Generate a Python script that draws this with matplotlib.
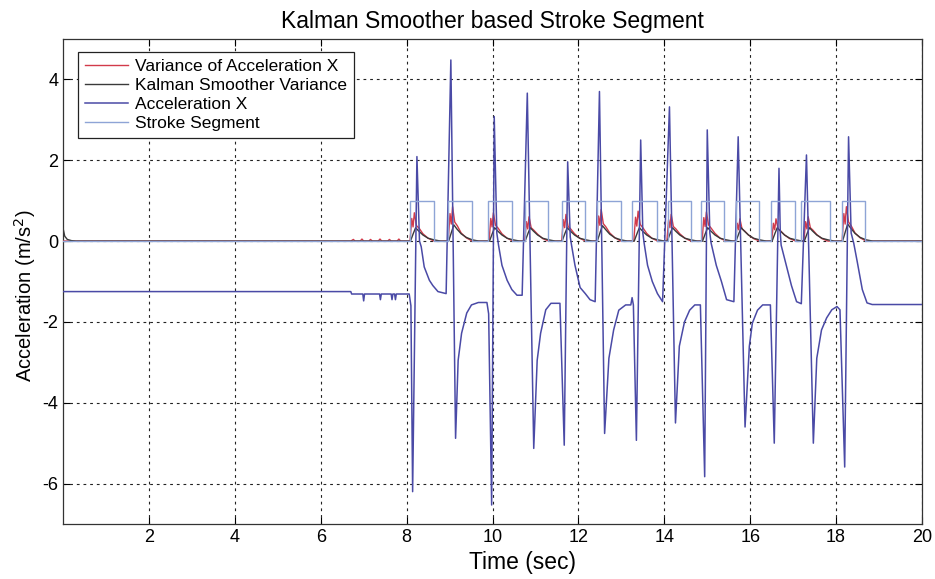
import matplotlib
matplotlib.use("Agg")
import matplotlib.pyplot as plt

plt.rcParams['font.family'] = ['Liberation Sans', 'DejaVu Sans']
plt.rcParams['axes.unicode_minus'] = False

# ---------------- data ----------------
x_ticks = [2, 4, 6, 8, 10, 12, 14, 16, 18, 20]
y_ticks = [-6, -4, -2, 0, 2, 4]

# Acceleration X: idle part before the strokes
accel_idle_t = [0.0, 6.70, 6.72, 6.98, 7.00, 7.02, 7.37, 7.39, 7.41, 7.64, 7.66, 7.68,
                7.72, 7.74, 7.76, 8.06]
accel_idle_v = [-1.25, -1.25, -1.31, -1.31, -1.48, -1.31, -1.31, -1.45, -1.31, -1.31, -1.45, -1.31,
                -1.31, -1.45, -1.31, -1.31]

# Acceleration X: stroke part
accel_stroke_t = [
    8.10, 8.14, 8.24, 8.30, 8.34, 8.41, 8.53, 8.61, 8.73, 8.92,
    9.03, 9.14, 9.20, 9.28, 9.40, 9.51, 9.67, 9.87,
    9.91, 9.98, 10.04, 10.10, 10.14, 10.22, 10.34, 10.45, 10.57, 10.69,
    10.81, 10.96, 11.04, 11.12, 11.24, 11.36, 11.57,
    11.67, 11.75, 11.81, 11.84, 11.92, 12.04, 12.16, 12.27, 12.39,
    12.49, 12.61, 12.71, 12.82, 12.94, 13.10, 13.22, 13.25, 13.28,
    13.35, 13.45, 13.50, 13.53, 13.61, 13.72, 13.84, 13.96,
    14.12, 14.26, 14.35, 14.47, 14.59, 14.71, 14.84,
    14.94, 15.00, 15.06, 15.09, 15.21, 15.33, 15.45, 15.62,
    15.72, 15.88, 15.98, 16.05, 16.17, 16.29, 16.47,
    16.56, 16.67, 16.70, 16.72, 16.84, 16.96, 17.08, 17.19,
    17.31, 17.47, 17.55, 17.66, 17.78, 17.90, 18.02, 18.09,
    18.20, 18.29, 18.35, 18.41, 18.49, 18.61, 18.72, 18.84, 20.0]
accel_stroke_v = [
    -1.6, -6.2, 2.09, 0.0, -0.14, -0.64, -0.97, -1.10, -1.25, -1.30,
    4.48, -4.88, -2.95, -2.28, -1.78, -1.58, -1.52, -1.52,
    -1.8, -6.53, 3.08, 0.2, -0.10, -0.60, -0.97, -1.20, -1.34, -1.34,
    3.66, -5.13, -2.95, -2.28, -1.70, -1.54, -1.54,
    -5.05, 1.96, 0.1, -0.10, -0.60, -1.15, -1.30, -1.45, -1.50,
    3.70, -4.76, -2.90, -2.20, -1.71, -1.58, -1.58, -1.40, -1.58,
    -4.93, 2.50, 0.2, -0.05, -0.60, -1.00, -1.30, -1.50,
    3.32, -4.50, -2.60, -2.00, -1.71, -1.58, -1.58,
    -5.83, 2.75, 0.2, -0.05, -0.60, -1.00, -1.45, -1.50,
    2.58, -4.60, -2.60, -2.03, -1.71, -1.58, -1.58,
    -5.00, 1.80, 0.2, -0.10, -0.60, -1.10, -1.50, -1.55,
    2.13, -5.00, -2.90, -2.20, -1.90, -1.70, -1.62, -1.70,
    -5.59, 2.58, 0.2, -0.05, -0.50, -1.20, -1.53, -1.57, -1.57]

# Stroke segment pulses (start / end times, height)
stroke_start = [8.08, 8.97, 9.89, 10.75, 11.61, 12.43, 13.25, 14.08, 14.85, 15.66, 16.49, 17.19, 18.13]
stroke_end = [8.63, 9.52, 10.46, 11.30, 12.16, 12.99, 13.84, 14.63, 15.40, 16.21, 17.04, 17.86, 18.68]
stroke_level = 1.0

# Variance of Acceleration X (red)
red_idle_t = [0.0, 6.70, 6.76, 6.80, 6.92, 6.96, 7.00, 7.12, 7.16, 7.20, 7.34, 7.38, 7.42,
              7.56, 7.60, 7.64, 7.78, 7.82, 7.86, 8.00]
red_idle_v = [0.0, 0.0, 0.04, 0.0, 0.0, 0.05, 0.0, 0.0, 0.04, 0.0, 0.0, 0.05, 0.0,
              0.0, 0.04, 0.0, 0.0, 0.05, 0.0, 0.0]
red_stroke_t = [
    8.08, 8.12, 8.15, 8.18, 8.23, 8.29, 8.38, 8.50, 8.64,
    8.97, 9.01, 9.04, 9.07, 9.12, 9.18, 9.27, 9.39, 9.53,
    9.92, 9.96, 9.99, 10.02, 10.07, 10.13, 10.22, 10.34, 10.48,
    10.75, 10.79, 10.82, 10.85, 10.90, 10.96, 11.05, 11.17, 11.31,
    11.61, 11.65, 11.68, 11.71, 11.76, 11.82, 11.91, 12.03, 12.17,
    12.43, 12.47, 12.50, 12.53, 12.58, 12.64, 12.73, 12.85, 12.99,
    13.29, 13.33, 13.36, 13.39, 13.44, 13.50, 13.59, 13.71, 13.85,
    14.06, 14.10, 14.13, 14.16, 14.21, 14.27, 14.36, 14.48, 14.62,
    14.88, 14.92, 14.95, 14.98, 15.03, 15.09, 15.18, 15.30, 15.44,
    15.66, 15.70, 15.73, 15.76, 15.81, 15.87, 15.96, 16.08, 16.22,
    16.50, 16.54, 16.57, 16.60, 16.65, 16.71, 16.80, 16.92, 17.06,
    17.25, 17.29, 17.32, 17.35, 17.40, 17.46, 17.55, 17.67, 17.81,
    18.14, 18.18, 18.21, 18.24, 18.29, 18.35, 18.44, 18.56, 18.70, 20.0]
red_stroke_v = [
    0, .56, .35, .70, .38, .32, .18, .07, 0,
    0, .68, .42, .85, .47, .38, .20, .08, 0,
    0, .56, .35, .70, .39, .32, .18, .07, 0,
    0, .48, .30, .60, .33, .27, .17, .06, 0,
    0, .53, .33, .66, .36, .30, .18, .07, 0,
    0, .62, .39, .78, .43, .35, .20, .08, 0,
    0, .59, .37, .74, .41, .33, .19, .07, 0,
    0, .53, .33, .66, .36, .30, .18, .07, 0,
    0, .58, .36, .72, .40, .32, .19, .07, 0,
    0, .44, .28, .55, .30, .25, .15, .06, 0,
    0, .44, .28, .55, .30, .25, .15, .06, 0,
    0, .48, .30, .60, .33, .27, .16, .06, 0,
    0, .68, .42, .85, .47, .38, .20, .08, 0, 0]

# Kalman Smoother Variance (black)
kal_start_t = [0.0, 0.04, 0.10, 0.20, 0.30]
kal_start_v = [0.32, 0.12, 0.04, 0.01, 0.0]
kal_stroke_t = [
    8.09, 8.16, 8.21, 8.28, 8.38, 8.50, 8.64, 8.79,
    8.98, 9.05, 9.10, 9.17, 9.27, 9.39, 9.53, 9.68,
    9.93, 10.00, 10.05, 10.12, 10.22, 10.34, 10.48, 10.63,
    10.76, 10.83, 10.88, 10.95, 11.05, 11.17, 11.31, 11.46,
    11.62, 11.69, 11.74, 11.81, 11.91, 12.03, 12.17, 12.32,
    12.44, 12.51, 12.56, 12.63, 12.73, 12.85, 12.99, 13.14,
    13.30, 13.37, 13.42, 13.49, 13.59, 13.71, 13.85, 14.00,
    14.07, 14.14, 14.19, 14.26, 14.36, 14.48, 14.62, 14.77,
    14.89, 14.96, 15.01, 15.08, 15.18, 15.30, 15.44, 15.59,
    15.67, 15.74, 15.79, 15.86, 15.96, 16.08, 16.22, 16.37,
    16.51, 16.58, 16.63, 16.70, 16.80, 16.92, 17.06, 17.21,
    17.26, 17.33, 17.38, 17.45, 17.55, 17.67, 17.81, 17.96,
    18.15, 18.22, 18.27, 18.34, 18.44, 18.56, 18.70, 18.85, 20.0]
kal_stroke_v = [
    0, .20, .33, .25, .15, .07, .03, 0,
    0, .24, .40, .30, .18, .09, .03, 0,
    0, .20, .33, .25, .15, .07, .03, 0,
    0, .20, .33, .25, .15, .07, .03, 0,
    0, .20, .33, .25, .15, .07, .03, 0,
    0, .23, .38, .29, .17, .08, .03, 0,
    0, .20, .33, .25, .15, .07, .03, 0,
    0, .20, .33, .25, .15, .07, .03, 0,
    0, .20, .33, .25, .15, .07, .03, 0,
    0, .20, .33, .25, .15, .07, .03, 0,
    0, .20, .33, .25, .15, .07, .03, 0,
    0, .20, .33, .25, .15, .07, .03, 0,
    0, .25, .42, .32, .19, .09, .03, 0, 0]

# ---------------- build lines ----------------
stroke_t = [0.0]
stroke_v = [0.0]
for s, e in zip(stroke_start, stroke_end):
    stroke_t += [s, s, e, e]
    stroke_v += [0.0, stroke_level, stroke_level, 0.0]
stroke_t.append(20.0)
stroke_v.append(0.0)

accel_t = accel_idle_t + accel_stroke_t
accel_v = accel_idle_v + accel_stroke_v
red_t = red_idle_t + red_stroke_t
red_v = red_idle_v + red_stroke_v
kal_t = kal_start_t + kal_stroke_t
kal_v = kal_start_v + kal_stroke_v

# ---------------- figure ----------------
fig = plt.figure(figsize=(9.35, 5.79), dpi=100)
ax = fig.add_axes([0.0674, 0.095, 0.9187, 0.8377])

ax.plot(red_t, red_v, color='#d23a4a', lw=1.0, label='Variance of Acceleration X', zorder=3)
ax.plot(kal_t, kal_v, color='#3a3a3a', lw=1.0, label='Kalman Smoother Variance', zorder=4)
ax.plot(accel_t, accel_v, color='#4a4aa6', lw=1.1, label='Acceleration X', zorder=5)
ax.plot(stroke_t, stroke_v, color='#8ea4d6', lw=1.0, label='Stroke Segment', zorder=6)

ax.set_xlim(0, 20)
ax.set_ylim(-7, 5)
ax.set_xticks(x_ticks)
ax.set_yticks(y_ticks)
ax.grid(True, color='#222222', linestyle=(0, (2.5, 3.5)), linewidth=0.8)
ax.tick_params(direction='in', top=True, right=True, length=5, labelsize=13, width=0.8)
for sp in ax.spines.values():
    sp.set_linewidth(0.9)
    sp.set_color('#333333')

ax.set_title('Kalman Smoother based Stroke Segment', fontsize=16.5, pad=8)
ax.set_xlabel('Time (sec)', fontsize=16.5, labelpad=4)
ax.xaxis.set_label_coords(0.535, -0.055)
ax.set_ylabel('Acceleration (m/s$^2$)', fontsize=14.5, labelpad=4)
ax.yaxis.set_label_coords(-0.029, 0.47)

leg = ax.legend(loc='upper left', bbox_to_anchor=(0.0834, 0.9107), bbox_transform=fig.transFigure,
                fontsize=12.5, frameon=True, fancybox=False, framealpha=1, edgecolor='#222222',
                handlelength=2.5, handletextpad=0.4, borderpad=0.4, labelspacing=0.22,
                borderaxespad=0)
leg.get_frame().set_linewidth(0.9)

fig.savefig('out.png', dpi=100)
